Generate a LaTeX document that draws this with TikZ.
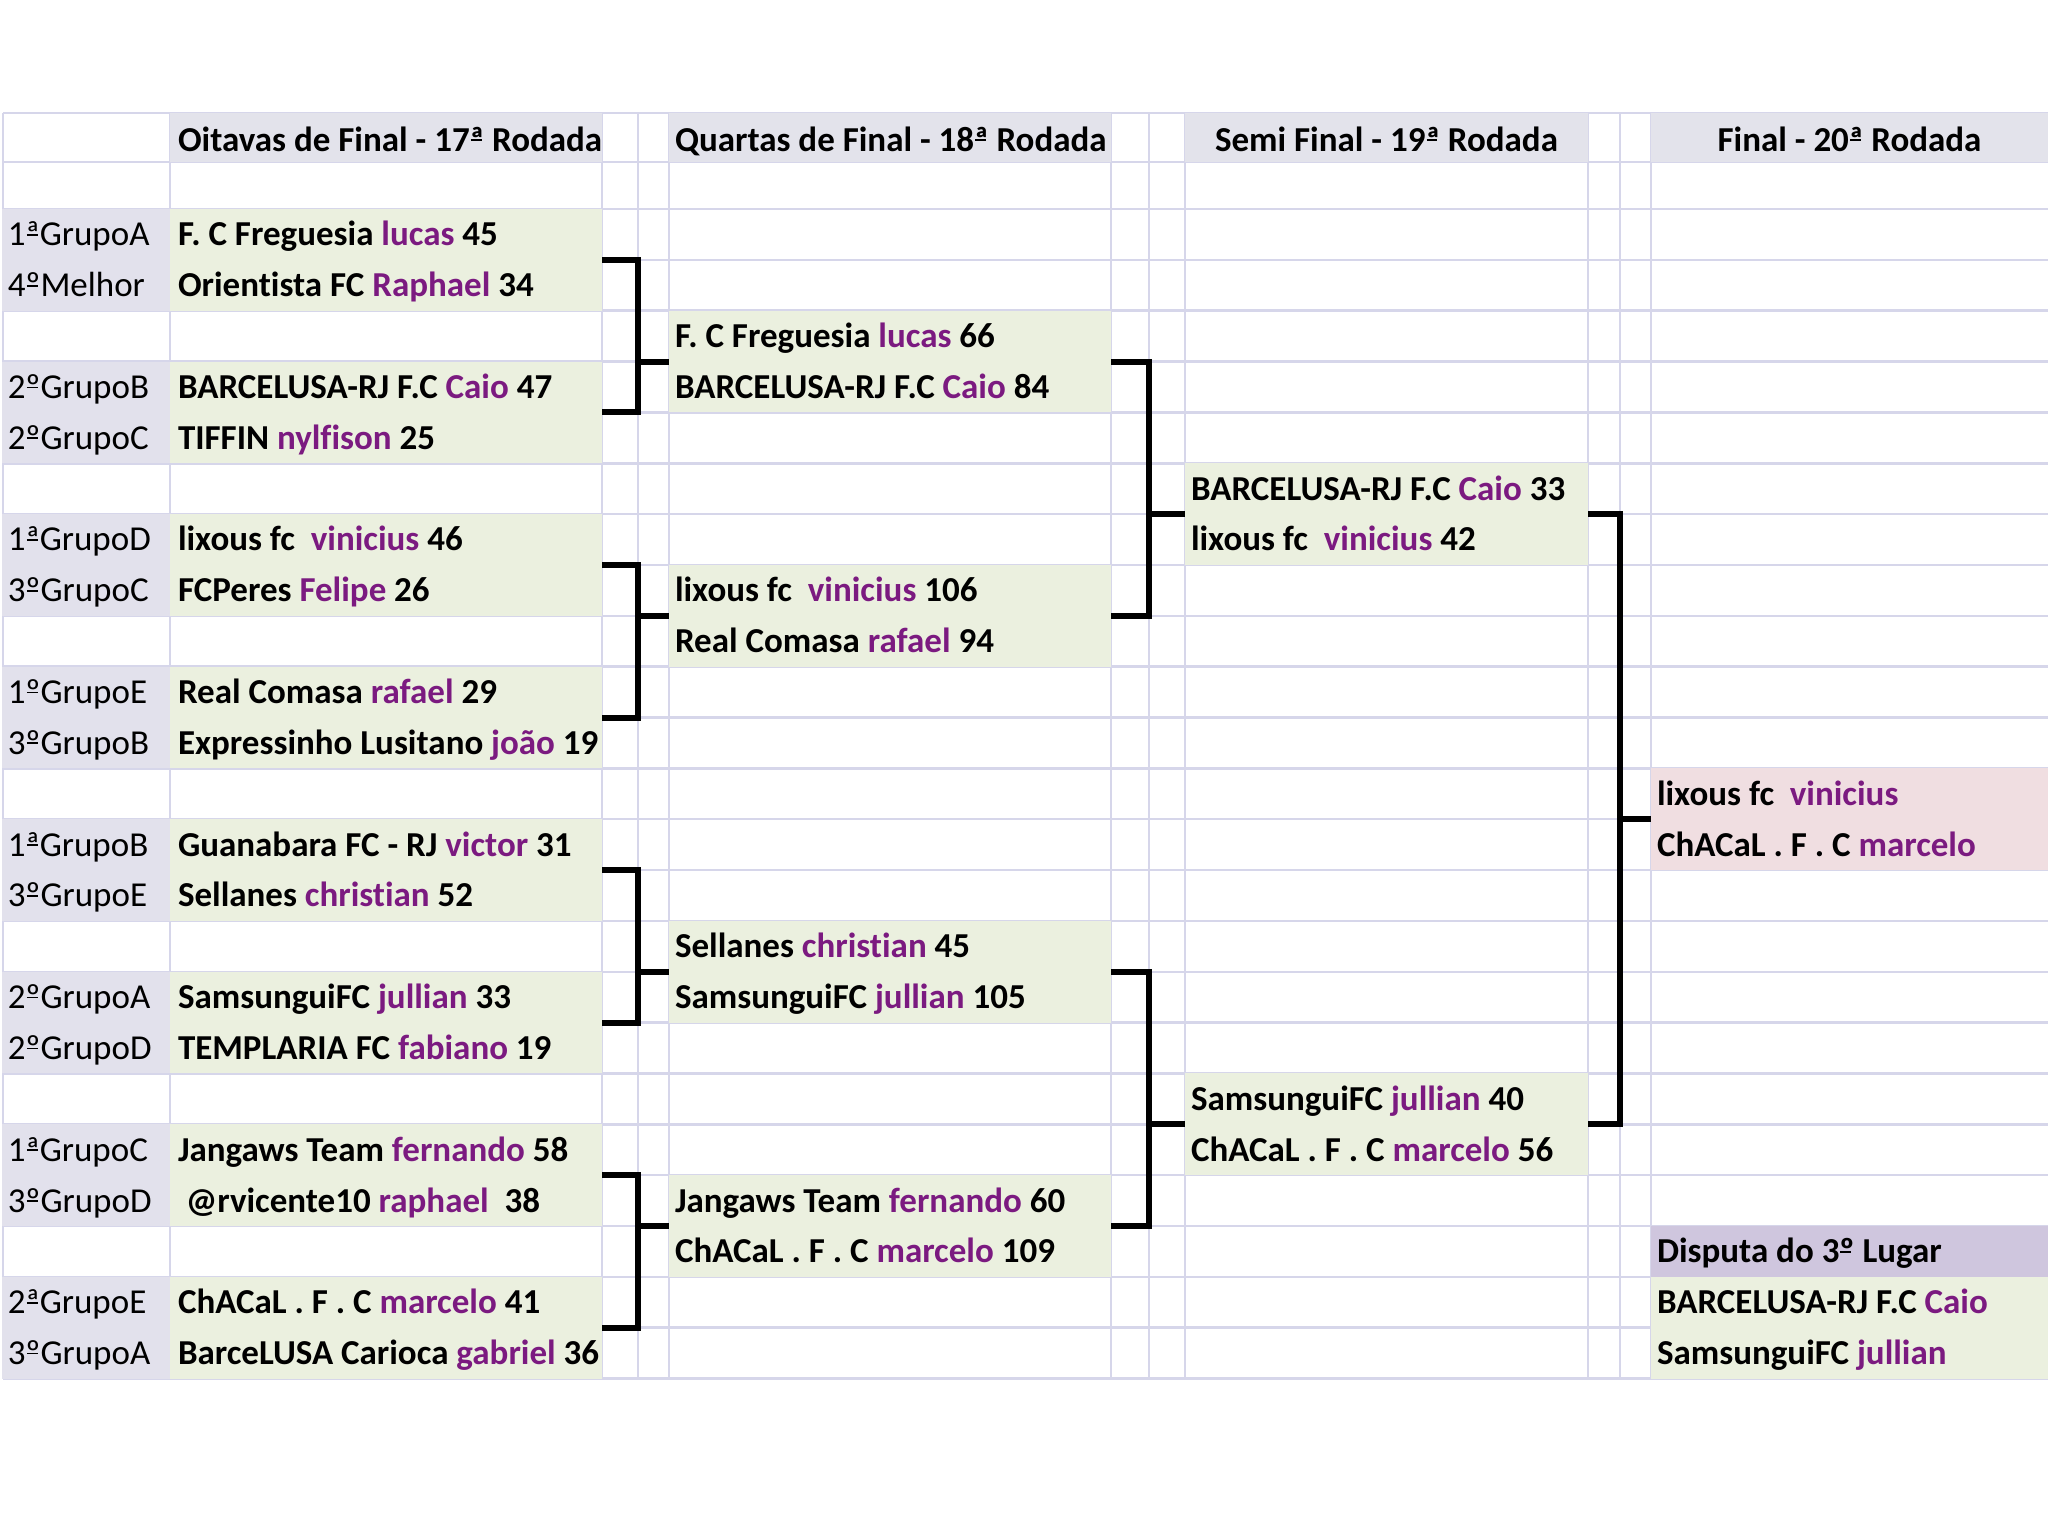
\documentclass[tikz,border=0pt]{standalone}
\usepackage{fontspec}
\setmainfont{Carlito}[Ligatures=NoCommon]
\usetikzlibrary{calc}
\definecolor{gridc}{HTML}{D6D6EA}
\definecolor{hdr}{HTML}{E3E3EB}
\definecolor{lab}{HTML}{E2E1EC}
\definecolor{grn}{HTML}{EBF0DF}
\definecolor{pnk}{HTML}{F0DEE1}
\definecolor{prp}{HTML}{CFC6DE}
\definecolor{pl}{HTML}{7B1A80}
\pgfmathdeclarefunction{rb}{1}{\pgfmathparse{209+50.85*(#1-2)}}
\newcommand\plname[1]{\textcolor{pl}{#1}}
\newcommand\ordmark[1]{\makebox[0pt][l]{\kern0.03em\rule[0.29em]{0.31em}{0.05em}}#1}
\newcommand\oA{\ordmark{ª}}
\newcommand\oO{\ordmark{º}}
\newcommand\ty[1]{{rb(#1+1)-14}}
\newcommand\cellbox[6]{\node[cellbx, fill=#6, minimum width=#3pt, minimum height={#5*50.85pt}] (#1) at (#2,{rb(#4)}) {};}
\begin{document}
\begin{tikzpicture}[x=1pt,y=-1pt,
  gridl/.style={draw=gridc, line width=2.5pt},
  cellbx/.style={rectangle, inner sep=0pt, outer sep=0pt, draw=none, anchor=north west},
  team/.style={anchor=base west, inner sep=0pt, outer sep=0pt, font=\fontsize{35}{40}\selectfont\bfseries},
  grp/.style={anchor=base west, inner sep=0pt, outer sep=0pt, font=\fontsize{35}{40}\selectfont},
  head/.style={inner sep=0pt, outer sep=0pt, font=\fontsize{35}{40}\selectfont\bfseries},
  bracket/.style={draw=black, line width=6pt}]
\path[use as bounding box, fill=white] (0,0) rectangle (2048,1536);
% grid
\foreach \yy in {113,162} \draw[gridl] (3,\yy) -- (2048,\yy);
\foreach \k in {2,...,25} \draw[gridl] (3,{rb(\k)}) -- (2048,{rb(\k)});
\foreach \xx in {3,170,602,638,669,1111,1149,1185,1588,1620,1651} \draw[gridl] (\xx,113) -- (\xx,{rb(25)});
% header fills
\node[cellbx, fill=hdr, minimum width=432pt, minimum height=49pt] (hb1) at (170,113) {};
\node[cellbx, fill=hdr, minimum width=442pt, minimum height=49pt] (hb2) at (669,113) {};
\node[cellbx, fill=hdr, minimum width=403pt, minimum height=49pt] (hb3) at (1185,113) {};
\node[cellbx, fill=hdr, minimum width=397pt, minimum height=49pt] (hb4) at (1651,113) {};
% label and team fills (round of 16)
\cellbox{la1}{2}{168}{2}{2}{lab}
\cellbox{la2}{2}{168}{5}{2}{lab}
\cellbox{la3}{2}{168}{8}{2}{lab}
\cellbox{la4}{2}{168}{11}{2}{lab}
\cellbox{la5}{2}{168}{14}{2}{lab}
\cellbox{la6}{2}{168}{17}{2}{lab}
\cellbox{la7}{2}{168}{20}{2}{lab}
\cellbox{la8}{2}{168}{23}{2}{lab}
\cellbox{o1}{170}{432}{2}{2}{grn}
\cellbox{o2}{170}{432}{5}{2}{grn}
\cellbox{o3}{170}{432}{8}{2}{grn}
\cellbox{o4}{170}{432}{11}{2}{grn}
\cellbox{o5}{170}{432}{14}{2}{grn}
\cellbox{o6}{170}{432}{17}{2}{grn}
\cellbox{o7}{170}{432}{20}{2}{grn}
\cellbox{o8}{170}{432}{23}{2}{grn}
% quarter, semi, final fills
\cellbox{q1}{669}{442}{4}{2}{grn}
\cellbox{q2}{669}{442}{9}{2}{grn}
\cellbox{q3}{669}{442}{16}{2}{grn}
\cellbox{q4}{669}{442}{21}{2}{grn}
\cellbox{s1}{1185}{403}{7}{2}{grn}
\cellbox{s2}{1185}{403}{19}{2}{grn}
\cellbox{fin}{1651}{397}{13}{2}{pnk}
\cellbox{d3}{1651}{397}{22}{1}{prp}
\cellbox{d3t}{1651}{397}{23}{2}{grn}
% headers
\node[head, anchor=base west] (h1) at (178,151) {Oitavas de Final - 17\oA{} Rodada};
\node[head, anchor=base west] (h2) at (675,151) {Quartas de Final - 18\oA{} Rodada};
\node[head, anchor=base] (h3) at (1386.5,151) {Semi Final - 19\oA{} Rodada};
\node[head, anchor=base] (h4) at (1849.5,151) {Final - 20\oA{} Rodada};
% round of 16
\node[grp] (g2) at (8,\ty{2}) {1\oA GrupoA};
\node[team] (t2) at (178,\ty{2}) {F. C Freguesia \plname{lucas} 45};
\node[grp] (g3) at (8,\ty{3}) {4\oO Melhor};
\node[team] (t3) at (178,\ty{3}) {Orientista FC \plname{Raphael} 34};
\node[grp] (g5) at (8,\ty{5}) {2\oO GrupoB};
\node[team] (t5) at (178,\ty{5}) {BARCELUSA-RJ F.C \plname{Caio} 47};
\node[grp] (g6) at (8,\ty{6}) {2\oO GrupoC};
\node[team] (t6) at (178,\ty{6}) {TIFFIN \plname{nylfison} 25};
\node[grp] (g8) at (8,\ty{8}) {1\oA GrupoD};
\node[team] (t8) at (178,\ty{8}) {lixous fc\ \ \plname{vinicius} 46};
\node[grp] (g9) at (8,\ty{9}) {3\oO GrupoC};
\node[team] (t9) at (178,\ty{9}) {FCPeres \plname{Felipe} 26};
\node[grp] (g11) at (8,\ty{11}) {1\oO GrupoE};
\node[team] (t11) at (178,\ty{11}) {Real Comasa \plname{rafael} 29};
\node[grp] (g12) at (8,\ty{12}) {3\oO GrupoB};
\node[team] (t12) at (178,\ty{12}) {Expressinho Lusitano \plname{joão} 19};
\node[grp] (g14) at (8,\ty{14}) {1\oA GrupoB};
\node[team] (t14) at (178,\ty{14}) {Guanabara FC - RJ \plname{victor} 31};
\node[grp] (g15) at (8,\ty{15}) {3\oO GrupoE};
\node[team] (t15) at (178,\ty{15}) {Sellanes \plname{christian} 52};
\node[grp] (g17) at (8,\ty{17}) {2\oO GrupoA};
\node[team] (t17) at (178,\ty{17}) {SamsunguiFC \plname{jullian} 33};
\node[grp] (g18) at (8,\ty{18}) {2\oO GrupoD};
\node[team] (t18) at (178,\ty{18}) {TEMPLARIA FC \plname{fabiano} 19};
\node[grp] (g20) at (8,\ty{20}) {1\oA GrupoC};
\node[team] (t20) at (178,\ty{20}) {Jangaws Team \plname{fernando} 58};
\node[grp] (g21) at (8,\ty{21}) {3\oO GrupoD};
\node[team] (t21) at (178,\ty{21}) {\ @rvicente10 \plname{raphael}\ \ 38};
\node[grp] (g23) at (8,\ty{23}) {2\oA GrupoE};
\node[team] (t23) at (178,\ty{23}) {ChACaL . F . C \plname{marcelo} 41};
\node[grp] (g24) at (8,\ty{24}) {3\oO GrupoA};
\node[team] (t24) at (178,\ty{24}) {BarceLUSA Carioca \plname{gabriel} 36};
% quarters
\node[team] (qt4) at (675,\ty{4}) {F. C Freguesia \plname{lucas} 66};
\node[team] (qt5) at (675,\ty{5}) {BARCELUSA-RJ F.C \plname{Caio} 84};
\node[team] (qt9) at (675,\ty{9}) {lixous fc\ \ \plname{vinicius} 106};
\node[team] (qt10) at (675,\ty{10}) {Real Comasa \plname{rafael} 94};
\node[team] (qt16) at (675,\ty{16}) {Sellanes \plname{christian} 45};
\node[team] (qt17) at (675,\ty{17}) {SamsunguiFC \plname{jullian} 105};
\node[team] (qt21) at (675,\ty{21}) {Jangaws Team \plname{fernando} 60};
\node[team] (qt22) at (675,\ty{22}) {ChACaL . F . C \plname{marcelo} 109};
% semis
\node[team] (st7) at (1191,\ty{7}) {BARCELUSA-RJ F.C \plname{Caio} 33};
\node[team] (st8) at (1191,\ty{8}) {lixous fc\ \ \plname{vinicius} 42};
\node[team] (st19) at (1191,\ty{19}) {SamsunguiFC \plname{jullian} 40};
\node[team] (st20) at (1191,\ty{20}) {ChACaL . F . C \plname{marcelo} 56};
% final and third place
\node[team] (ft13) at (1657,\ty{13}) {lixous fc\ \ \plname{vinicius}};
\node[team] (ft14) at (1657,\ty{14}) {ChACaL . F . C \plname{marcelo}};
\node[team] (dt22) at (1657,\ty{22}) {Disputa do 3\oO{} Lugar};
\node[team] (dt23) at (1657,\ty{23}) {BARCELUSA-RJ F.C \plname{Caio}};
\node[team] (dt24) at (1657,\ty{24}) {SamsunguiFC \plname{jullian}};
% brackets
\coordinate (jA) at (638,0);
\coordinate (jB) at (1149,0);
\coordinate (jC) at (1620,0);
\draw[bracket] (o1.east) -- (o1.east -| jA) |- (o2.east);
\draw[bracket] (jA |- q1.west) -- (q1.west);
\draw[bracket] (o3.east) -- (o3.east -| jA) |- (o4.east);
\draw[bracket] (jA |- q2.west) -- (q2.west);
\draw[bracket] (o5.east) -- (o5.east -| jA) |- (o6.east);
\draw[bracket] (jA |- q3.west) -- (q3.west);
\draw[bracket] (o7.east) -- (o7.east -| jA) |- (o8.east);
\draw[bracket] (jA |- q4.west) -- (q4.west);
\draw[bracket] (q1.east) -- (q1.east -| jB) |- (q2.east);
\draw[bracket] (jB |- s1.west) -- (s1.west);
\draw[bracket] (q3.east) -- (q3.east -| jB) |- (q4.east);
\draw[bracket] (jB |- s2.west) -- (s2.west);
\draw[bracket] (s1.east) -- (s1.east -| jC) |- (s2.east);
\draw[bracket] (jC |- fin.west) -- (fin.west);
\end{tikzpicture}
\end{document}
